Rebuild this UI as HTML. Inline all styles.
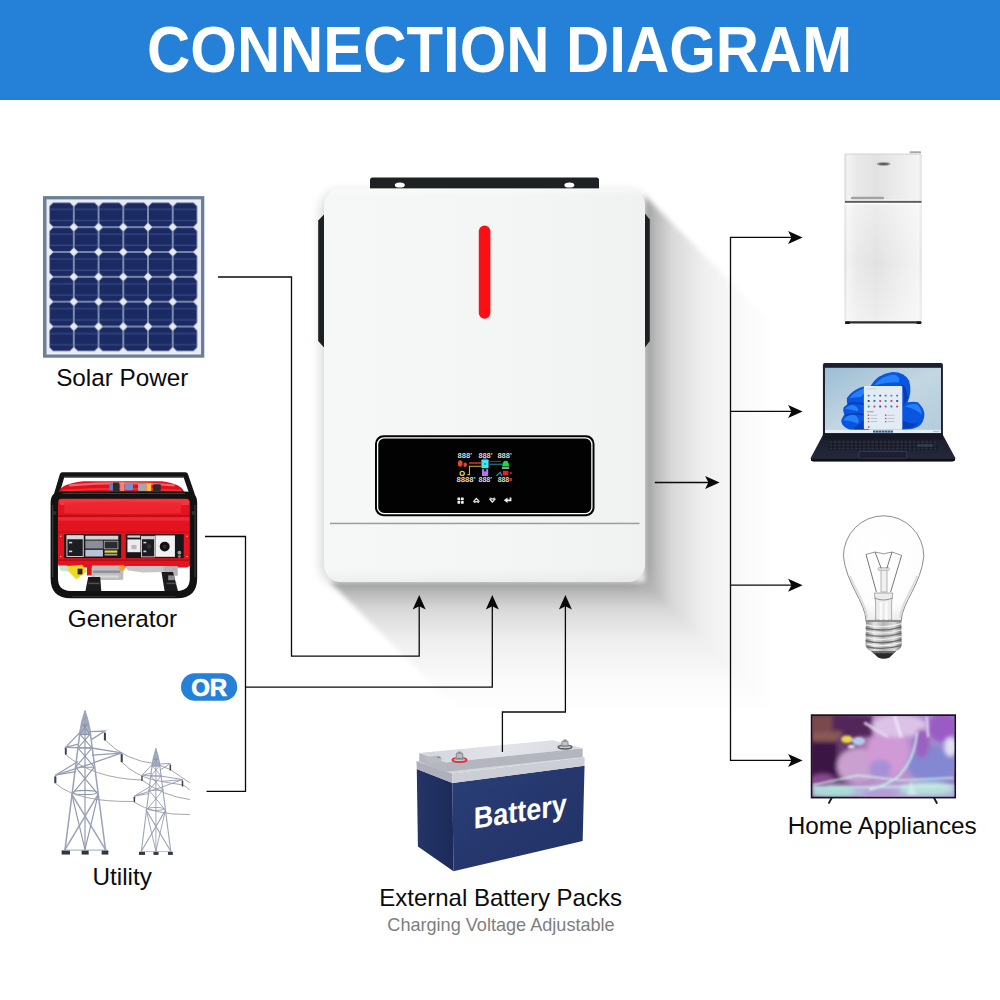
<!DOCTYPE html>
<html>
<head>
<meta charset="utf-8">
<title>Connection Diagram</title>
<style>
html,body{margin:0;padding:0;background:#fff;}
body{width:1000px;height:1000px;overflow:hidden;font-family:"Liberation Sans",sans-serif;}
svg{display:block;}
text{font-family:"Liberation Sans",sans-serif;}
.lbl{font-size:24.3px;fill:#0c0c0c;text-anchor:middle;}
.ln{fill:none;stroke:#0a0a0a;stroke-width:1.3;}
.ah{fill:#0a0a0a;}
</style>
</head>
<body>
<svg width="1000" height="1000" viewBox="0 0 1000 1000">
<defs>
  <!-- arrow heads: tip at 0,0 -->
  <path id="ar" d="M0,0 L-14.5,-6.5 L-11.2,0 L-14.5,6.5 Z"/>
  <path id="au" d="M0,0 L-6.5,14.5 L0,11.2 L6.5,14.5 Z"/>
  <linearGradient id="shR" x1="0" y1="0" x2="1" y2="0">
    <stop offset="0" stop-color="#000" stop-opacity="0.33"/>
    <stop offset="0.06" stop-color="#000" stop-opacity="0.29"/>
    <stop offset="0.21" stop-color="#000" stop-opacity="0.15"/>
    <stop offset="0.45" stop-color="#000" stop-opacity="0.062"/>
    <stop offset="0.75" stop-color="#000" stop-opacity="0.02"/>
    <stop offset="1" stop-color="#000" stop-opacity="0"/>
  </linearGradient>
  <linearGradient id="shB" x1="0" y1="0" x2="0" y2="1">
    <stop offset="0" stop-color="#000" stop-opacity="0.33"/>
    <stop offset="0.06" stop-color="#000" stop-opacity="0.29"/>
    <stop offset="0.21" stop-color="#000" stop-opacity="0.15"/>
    <stop offset="0.45" stop-color="#000" stop-opacity="0.062"/>
    <stop offset="0.75" stop-color="#000" stop-opacity="0.02"/>
    <stop offset="1" stop-color="#000" stop-opacity="0"/>
  </linearGradient>
  <filter id="blur7" x="-10%" y="-10%" width="120%" height="120%"><feGaussianBlur stdDeviation="6"/></filter>
  <filter id="blur3" x="-10%" y="-10%" width="120%" height="120%"><feGaussianBlur stdDeviation="2.5"/></filter>
  <linearGradient id="invBevel" x1="0" y1="0" x2="0" y2="1">
    <stop offset="0" stop-color="#fff" stop-opacity="0.5"/>
    <stop offset="0.02" stop-color="#fff" stop-opacity="0"/>
    <stop offset="0.965" stop-color="#000" stop-opacity="0"/>
    <stop offset="1" stop-color="#000" stop-opacity="0.035"/>
  </linearGradient>
  <linearGradient id="invBody" x1="0" y1="0" x2="1" y2="0">
    <stop offset="0" stop-color="#f6f7f7"/>
    <stop offset="0.5" stop-color="#f4f5f5"/>
    <stop offset="1" stop-color="#f0f1f1"/>
  </linearGradient>
</defs>

<!-- ================= HEADER ================= -->
<rect x="0" y="0" width="1000" height="100" fill="#2580d8"/>
<text x="499.6" y="72.3" font-size="64" font-weight="bold" fill="#fff" text-anchor="middle" textLength="705" lengthAdjust="spacingAndGlyphs">CONNECTION DIAGRAM</text>

<!-- ================= INVERTER SHADOW ================= -->
<rect x="321" y="192" width="326" height="392" rx="17" fill="#000" opacity="0.16" filter="url(#blur7)"/>
<g id="shadow" filter="url(#blur3)">
  <polygon points="645,196 775,326 775,712 645,582" fill="url(#shR)"/>
  <polygon points="330,582 645,582 775,712 460,712" fill="url(#shB)"/>
</g>

<!-- ================= INVERTER ================= -->
<g id="inverter">
  <!-- top bracket -->
  <path d="M370,189 L370,180 Q370,177.5 372.5,177.5 L596.5,177.5 Q599,177.5 599,180 L599,189 Z" fill="#1d2123"/>
  <ellipse cx="399.8" cy="185" rx="5" ry="2.6" fill="#fff"/>
  <ellipse cx="569.4" cy="185" rx="5" ry="2.6" fill="#fff"/>
  <!-- side handles -->
  <path d="M324.5,214 L318.2,220.5 L318.2,341 L324.5,348 Z" fill="#1b2123"/>
  <path d="M644.5,213 L649.8,219.5 L649.8,341 L644.5,348 Z" fill="#1b2123"/>
  <!-- body -->
  <rect x="324" y="188.5" width="321" height="393.5" rx="17" ry="17" fill="url(#invBody)"/>
  <rect x="324" y="188.5" width="321" height="393.5" rx="17" ry="17" fill="url(#invBevel)"/>
  <!-- red led -->
  <rect x="478.8" y="225.5" width="11.6" height="93.2" rx="5.8" fill="#fb0f12"/>
  <!-- display -->
  <rect x="375" y="435.3" width="219.5" height="81" rx="8.5" fill="#020202"/>
  <rect x="377.6" y="437.9" width="214.3" height="75.8" rx="6.5" fill="none" stroke="#fff" stroke-width="1.3"/>
  <!-- lower seam -->
  <rect x="330" y="522.7" width="309.5" height="1.5" fill="#9c9e9e"/>
</g>


<!-- ================= OR BADGE ================= -->
<rect x="181" y="673.2" width="56.2" height="27.6" rx="13.8" fill="#2580d8"/>
<text x="209.2" y="696" font-size="24" font-weight="bold" fill="#fff" stroke="#fff" stroke-width="0.7" text-anchor="middle">OR</text>

<!-- ================= LABELS ================= -->
<text class="lbl" x="122.3" y="385.7">Solar Power</text>
<text class="lbl" x="122.5" y="626.6">Generator</text>
<text class="lbl" x="122.2" y="884.5">Utility</text>
<text class="lbl" x="500.6" y="906.4" style="font-size:24px">External Battery Packs</text>
<text x="501" y="931" font-size="18.1" fill="#7e7e7e" text-anchor="middle">Charging Voltage Adjustable</text>
<text class="lbl" x="882.2" y="834">Home Appliances</text>

<!-- ================= SOLAR PANEL ================= -->
<defs>
  <pattern id="cell" x="49.1" y="202.3" width="24.73" height="24.85" patternUnits="userSpaceOnUse">
    <rect width="24.73" height="24.85" fill="#94a2c4"/>
    <path d="M3.9,0.8 L20.83,0.8 L23.93,3.9 L23.93,20.95 L20.83,24.05 L3.9,24.05 L0.8,20.95 L0.8,3.9 Z" fill="#1b2a63"/>
    <rect x="0.8" y="6.4" width="23.13" height="1.3" fill="#34477f"/>
    <rect x="0.8" y="17.6" width="23.13" height="1.3" fill="#34477f"/>
    <polygon points="0,0 4.1,0 0,4.1" fill="#e8ebf1"/>
    <polygon points="24.73,0 20.63,0 24.73,4.1" fill="#e8ebf1"/>
    <polygon points="0,24.85 4.1,24.85 0,20.75" fill="#e8ebf1"/>
    <polygon points="24.73,24.85 20.63,24.85 24.73,20.75" fill="#e8ebf1"/>
  </pattern>
</defs>
<g id="solar">
  <rect x="43" y="196.1" width="161.3" height="161.6" fill="#6c7f97"/>
  <rect x="46.5" y="199.4" width="154.5" height="155.1" fill="#e9edf3"/>
  <rect x="49.1" y="202.3" width="148.38" height="149.1" fill="url(#cell)"/>
</g>

<!-- ================= GENERATOR ================= -->
<g id="generator" transform="translate(45,465) scale(0.16)">
  <!-- back frame -->
  <path d="M70,190 L108,62 L878,62 L922,190" fill="none" stroke="#141414" stroke-width="32" stroke-linejoin="round"/>
  <path d="M120,75 L870,75" stroke="#4a4a4a" stroke-width="6"/>
  <!-- tank top -->
  <path d="M84,178 Q88,118 240,102 L730,102 Q862,118 872,178 Z" fill="#de111c"/>
  <path d="M150,128 Q480,100 810,128" fill="none" stroke="#f8717a" stroke-width="14" opacity="0.85"/>
  <path d="M110,160 Q480,135 850,160" fill="none" stroke="#f03a45" stroke-width="12" opacity="0.8"/>
  <!-- cap / bits on top -->
  <rect x="402" y="112" width="50" height="48" rx="8" fill="#5f7fb5"/>
  <rect x="425" y="110" width="38" height="52" fill="#2a2a30"/>
  <rect x="470" y="108" width="26" height="54" fill="#f08a70"/>
  <rect x="498" y="114" width="52" height="44" rx="8" fill="#6f93cf"/>
  <rect x="582" y="118" width="52" height="44" fill="#a7a7ab"/>
  <rect x="634" y="114" width="30" height="48" fill="#efc24a"/>
  <rect x="676" y="120" width="48" height="42" rx="6" fill="#2b2b30"/>
  <!-- red body -->
  <path d="M92,205 L905,205 Q915,205 915,225 L915,600 Q915,640 880,640 L110,640 Q78,640 78,600 L78,225 Q78,205 92,205 Z" fill="#e3141f"/>
  <path d="M82,210 L910,210 L900,250 L95,250 Z" fill="#f2363f"/>
  <path d="M120,236 Q480,222 850,236 L850,300 Q480,312 120,300 Z" fill="#ee2630" opacity="0.9"/>
  <rect x="78" y="312" width="837" height="14" fill="#c10d18"/>
  <rect x="78" y="326" width="837" height="22" fill="#f0303a" opacity="0.8"/>
  <rect x="78" y="590" width="837" height="10" fill="#b90c16"/>
  <rect x="78" y="414" width="837" height="10" fill="#cf0f1a"/>
  <!-- control panels -->
  <rect x="120" y="432" width="356" height="150" fill="#17171b"/>
  <rect x="505" y="432" width="362" height="150" fill="#17171b"/>
  <rect x="137" y="442" width="102" height="130" fill="#1c1c22" stroke="#d8d8d8" stroke-width="6"/>
  <rect x="137" y="442" width="102" height="22" fill="#d8d8d8"/>
  <rect x="150" y="480" width="20" height="10" fill="#d0d0d0"/><rect x="150" y="535" width="20" height="10" fill="#d0d0d0"/>
  <rect x="252" y="442" width="206" height="24" fill="#d4d4d4"/>
  <rect x="252" y="472" width="110" height="50" fill="#8a8e98"/>
  <rect x="370" y="476" width="86" height="48" fill="#2a2c34" stroke="#b8b8b8" stroke-width="5"/>
  <rect x="252" y="530" width="110" height="42" fill="#b9c3d6"/>
  <rect x="372" y="534" width="80" height="14" fill="#e9d23c"/>
  <rect x="372" y="554" width="80" height="12" fill="#a0a0a0"/>
  <rect x="515" y="440" width="80" height="14" fill="#cfcfcf"/>
  <rect x="515" y="465" width="82" height="80" fill="#ececec"/>
  <rect x="540" y="500" width="32" height="26" fill="#b8b8b8"/>
  <rect x="603" y="446" width="82" height="128" fill="#1c1c22" stroke="#c8c8c8" stroke-width="6"/>
  <rect x="603" y="446" width="82" height="18" fill="#d0d0d0"/>
  <rect x="615" y="480" width="18" height="10" fill="#d0d0d0"/><rect x="615" y="535" width="18" height="10" fill="#d0d0d0"/>
  <circle cx="650" cy="510" r="14" fill="#34343c"/>
  <rect x="690" y="440" width="122" height="134" fill="#f1f1f1"/>
  <circle cx="748" cy="510" r="31" fill="#121215"/>
  <circle cx="748" cy="510" r="12" fill="#2c2c33"/>
  <circle cx="840" cy="548" r="12" fill="#9a9a9a"/><circle cx="840" cy="572" r="9" fill="#7c7c7c"/>
  <circle cx="98" cy="445" r="5" fill="#f3a0a0"/><circle cx="98" cy="572" r="5" fill="#f3a0a0"/>
  <circle cx="888" cy="445" r="5" fill="#f3a0a0"/><circle cx="888" cy="572" r="5" fill="#f3a0a0"/>
  <!-- engine / underside -->
  <rect x="290" y="628" width="200" height="90" rx="10" fill="#bdbdbf"/>
  <rect x="300" y="660" width="170" height="14" fill="#8e8e92"/>
  <rect x="310" y="690" width="150" height="14" fill="#d9d9db"/>
  <path d="M500,632 L760,632 L740,668 L610,672 L520,660 Z" fill="#c6c6c8"/>
  <rect x="740" y="632" width="90" height="60" fill="#b3b3b6"/>
  <circle cx="482" cy="642" r="18" fill="#f39a2c"/>
  <path d="M88,628 L140,628 L160,668 L95,660 Z" fill="#bfe6d6"/>
  <path d="M140,632 L232,624 L262,664 L196,716 L150,668 Z" fill="#f1d823"/>
  <rect x="204" y="648" width="30" height="36" fill="#2a2a22"/>
  <rect x="262" y="630" width="30" height="60" fill="#d21a22"/>
  <!-- feet -->
  <path d="M270,700 L345,700 L352,790 L252,790 Z" fill="#1b1b1e"/>
  <path d="M728,668 L800,668 L832,790 L748,790 Z" fill="#1b1b1e"/>
  <rect x="270" y="735" width="70" height="10" fill="#4d4d52"/><rect x="760" y="735" width="60" height="10" fill="#4d4d52"/>
  <rect x="770" y="690" width="40" height="30" fill="#8d8d90"/>
  <!-- front frame -->
  <path d="M58,235 Q58,188 105,188 L880,188 Q928,188 928,235 L928,708 Q928,810 826,810 L160,810 Q58,810 58,708 Z" fill="none" stroke="#121212" stroke-width="46" stroke-linejoin="round"/>
  <path d="M110,178 L876,178" stroke="#4c4c4c" stroke-width="5"/>
  <path d="M48,250 L48,700" stroke="#454545" stroke-width="6"/>
  <path d="M938,250 L938,700" stroke="#454545" stroke-width="6"/>
  <path d="M170,822 L816,822" stroke="#3a3a3a" stroke-width="5"/>
  <circle cx="58" cy="300" r="13" fill="#303030"/><circle cx="928" cy="300" r="13" fill="#303030"/>
</g>

<!-- ================= UTILITY TOWERS ================= -->
<defs>
  <g id="tower" fill="none" stroke-linecap="round">
    <path d="M250,66 Q222,120 212,220 L289,220 Q279,120 250,66 Z" fill="#aab1c2" stroke="none" opacity="0.9"/>
    <g stroke="#8d95a9" stroke-width="7">
      <path d="M250,100 V935"/>
      <path d="M168,590 L250,935 L332,590"/>
      <path d="M191,420 L332,590 M309,420 L168,590"/>
      <path d="M206,300 L309,420 M294,300 L191,420"/>
      <path d="M219,215 L294,300 M281,215 L206,300"/>
      <path d="M232,140 L281,215 M268,140 L219,215"/>
      <path d="M219,215 H281 M206,300 H294 M191,420 H309 M229,160 H271"/>
      <ellipse cx="250" cy="578" rx="72" ry="13"/>
    </g>
    <g stroke="#9ba3b6" stroke-width="9.5">
      <path d="M250,70 L218,205 L125,935"/>
      <path d="M250,70 L283,205 L378,935"/>
      <path d="M168,590 L378,935 M332,590 L125,935"/>
    </g>
    <g stroke="#969eb2" stroke-width="8">
      <path d="M283,198 L375,194 L292,246"/>
      <path d="M217,204 L130,294 L209,276"/>
      <path d="M130,296 L292,300 L480,330 L305,392"/>
      <path d="M296,345 L480,332"/>
      <path d="M204,386 L65,470 L192,447"/>
      <path d="M65,470 L300,395"/>
    </g>
    <g stroke="none" fill="#3c414d">
      <rect x="368" y="203" width="13" height="50" rx="3"/>
      <rect x="124" y="300" width="12" height="42" rx="3"/>
      <rect x="473" y="337" width="13" height="52" rx="3"/>
      <rect x="58" y="476" width="13" height="44" rx="3"/>
    </g>
    <g stroke="none" fill="#33363d">
      <rect x="104" y="940" width="52" height="26"/>
      <rect x="229" y="940" width="44" height="26"/>
      <rect x="354" y="940" width="42" height="26"/>
    </g>
    <path d="M120,938 H385" stroke="#9aa2b6" stroke-width="6"/>
  </g>
</defs>
<g id="utility" transform="translate(45,700) scale(0.16)">
  <!-- wires -->
  <g fill="none" stroke="#a2a2a2" stroke-width="6">
    <path d="M376,250 Q500,380 700,400 L785,436"/>
    <path d="M480,388 Q560,470 680,500 Q780,520 862,531"/>
    <path d="M130,342 Q300,490 605,500"/>
    <path d="M65,520 Q200,640 553,634"/>
    <path d="M785,436 Q850,480 905,518"/>
    <path d="M862,531 Q885,545 905,562"/>
    <path d="M605,500 Q740,600 905,622"/>
    <path d="M553,636 Q680,720 905,716"/>
  </g>
  <use href="#tower"/>
  <use href="#tower" transform="translate(693,305) scale(0.725,0.74) translate(-250,-70)"/>
</g>

<!-- ================= BATTERY ================= -->
<defs>
  <linearGradient id="batFront" x1="0" y1="0" x2="1" y2="1">
    <stop offset="0" stop-color="#2a3f78"/>
    <stop offset="0.5" stop-color="#25376d"/>
    <stop offset="1" stop-color="#223267"/>
  </linearGradient>
  <linearGradient id="batLeft" x1="0" y1="0" x2="1" y2="0">
    <stop offset="0" stop-color="#243566"/>
    <stop offset="1" stop-color="#1b2a59"/>
  </linearGradient>
  <linearGradient id="batTop" x1="0" y1="0" x2="1" y2="0">
    <stop offset="0" stop-color="#d3d5dc"/>
    <stop offset="0.5" stop-color="#e2e4ea"/>
    <stop offset="1" stop-color="#d9dbe1"/>
  </linearGradient>
</defs>
<g id="battery" transform="translate(405,725) scale(0.19)">
  <!-- body -->
  <polygon points="62,232 250,305 255,770 68,640" fill="url(#batLeft)"/>
  <polygon points="250,305 945,215 935,610 255,770" fill="url(#batFront)"/>
  <!-- rim flange -->
  <polygon points="60,190 250,255 250,305 62,232" fill="#aeb1bb"/>
  <polygon points="250,255 945,170 945,215 250,305" fill="#ccced6"/>
  <polygon points="60,190 760,105 945,170 250,255" fill="#d2d4db"/>
  <!-- raised lid -->
  <polygon points="75,148 215,198 215,250 75,192" fill="#b4b7c0"/>
  <polygon points="215,198 935,122 935,168 215,246" fill="#b3b6bf"/>
  <polygon points="75,148 780,80 935,122 215,198" fill="url(#batTop)"/>
  <!-- handle recess -->
  <path d="M100,168 L170,160 L195,176 L185,196 L130,202 Z" fill="#b9bcc5"/>
  <ellipse cx="178" cy="170" rx="10" ry="5" fill="#8e9098"/>
  <!-- terminals -->
  <ellipse cx="287" cy="184" rx="38" ry="11" fill="none" stroke="#d9303a" stroke-width="9"/>
  <ellipse cx="287" cy="178" rx="24" ry="8" fill="#9a9ca2"/>
  <rect x="270" y="148" width="34" height="28" rx="5" fill="#b9bbc1" stroke="#70737b" stroke-width="4"/>
  <rect x="278" y="140" width="18" height="12" fill="#8d9097"/>
  <ellipse cx="842" cy="116" rx="36" ry="10" fill="none" stroke="#55575e" stroke-width="8"/>
  <ellipse cx="842" cy="110" rx="22" ry="7" fill="#9a9ca2"/>
  <rect x="826" y="84" width="32" height="26" rx="5" fill="#c1c3c9" stroke="#70737b" stroke-width="4"/>
  <rect x="834" y="76" width="16" height="12" fill="#8d9097"/>
  <!-- text -->
  <text transform="translate(362,546) skewY(-8.7) scale(1,1.12)" font-size="142" font-weight="bold" fill="#fff">Battery</text>
</g>

<!-- ================= LINES ================= -->
<g id="lines">
  <!-- solar -->
  <path class="ln" d="M218,277 H291.5 V656.2 H419.2 V606"/>
  <use href="#au" class="ah" x="419.2" y="595"/>
  <!-- generator / utility -->
  <path class="ln" d="M205,536.5 H245.5 V791.3 H206.5"/>
  <path class="ln" d="M245.5,687.2 H492.3 V606"/>
  <use href="#au" class="ah" x="492.3" y="595"/>
  <!-- battery -->
  <path class="ln" d="M502.4,752 V712 H565.4 V606"/>
  <use href="#au" class="ah" x="565.4" y="595"/>
  <!-- inverter out -->
  <path class="ln" d="M654.8,482.5 H709"/>
  <use href="#ar" class="ah" x="719.6" y="482.5"/>
  <!-- bus -->
  <path class="ln" d="M792,237.4 H730.5 V760.4 H792"/>
  <path class="ln" d="M730.5,411.4 H792"/>
  <path class="ln" d="M730.5,585.2 H792"/>
  <use href="#ar" class="ah" x="802.6" y="237.4"/>
  <use href="#ar" class="ah" x="802.6" y="411.4"/>
  <use href="#ar" class="ah" x="802.6" y="585.2"/>
  <use href="#ar" class="ah" x="802.6" y="760.4"/>
</g>

<!-- ================= FRIDGE ================= -->
<defs>
  <linearGradient id="frG" x1="0" y1="0" x2="1" y2="0">
    <stop offset="0" stop-color="#d4d4d4"/>
    <stop offset="0.035" stop-color="#f3f3f3"/>
    <stop offset="0.16" stop-color="#e9e9e9"/>
    <stop offset="0.42" stop-color="#e2e2e2"/>
    <stop offset="0.72" stop-color="#ececec"/>
    <stop offset="0.96" stop-color="#f4f4f4"/>
    <stop offset="1" stop-color="#dcdcdc"/>
  </linearGradient>
  <linearGradient id="frV" x1="0" y1="0" x2="0" y2="1">
    <stop offset="0" stop-color="#fff" stop-opacity="0.35"/>
    <stop offset="0.5" stop-color="#fff" stop-opacity="0"/>
    <stop offset="1" stop-color="#fff" stop-opacity="0.4"/>
  </linearGradient>
</defs>
<g id="fridge">
  <rect x="909.5" y="151.2" width="11.6" height="2.2" rx="0.8" fill="#a9a9a9"/>
  <rect x="844.5" y="153.6" width="77.2" height="167.6" rx="1" fill="url(#frG)"/>
  <rect x="844.5" y="204" width="77.2" height="117.2" fill="url(#frV)"/>
  <rect x="845" y="153.6" width="76.2" height="1.2" fill="#dadada"/>
  <rect x="851" y="196.8" width="33" height="2.6" rx="1.2" fill="#a2a2a2"/>
  <rect x="846" y="199.4" width="75" height="1.2" fill="#f6f6f6"/>
  <rect x="845" y="200.9" width="76.5" height="1.9" fill="#5c5c5c"/>
  <rect x="844.5" y="203" width="77.2" height="1.6" fill="#fbfbfb"/>
  <ellipse cx="883.6" cy="163.9" rx="6.8" ry="1.9" fill="#9b9b9b"/>
  <ellipse cx="883.6" cy="163.9" rx="4.6" ry="1" fill="#5e5e5e"/>
  <rect x="845" y="321.2" width="76.4" height="2.3" rx="1" fill="#2c2c2c"/>
  <rect x="845" y="321.6" width="5" height="2.4" rx="1" fill="#161616"/>
  <rect x="916.4" y="321.6" width="5" height="2.4" rx="1" fill="#161616"/>
</g>

<!-- ================= LAPTOP ================= -->
<defs>
  <linearGradient id="lapScr" x1="0" y1="0" x2="1" y2="1">
    <stop offset="0" stop-color="#9bbdd5"/>
    <stop offset="0.5" stop-color="#c3d6e2"/>
    <stop offset="1" stop-color="#b3cbdc"/>
  </linearGradient>
  <linearGradient id="lapBase" x1="0" y1="0" x2="0" y2="1">
    <stop offset="0" stop-color="#1a1d2a"/>
    <stop offset="1" stop-color="#252a3c"/>
  </linearGradient>
  <pattern id="keys" x="150" y="535" width="26" height="20" patternUnits="userSpaceOnUse">
    <rect width="26" height="20" fill="#10121a"/>
    <rect x="2" y="2" width="21" height="15" rx="3" fill="#2a2e40"/>
  </pattern>
</defs>
<g id="laptop" transform="translate(805,355) scale(0.16)">
  <rect x="112" y="50" width="750" height="480" rx="12" fill="#1d2030"/>
  <rect x="125" y="80" width="725" height="408" fill="url(#lapScr)"/>
  <!-- bloom -->
  <g fill="#0a55e0">
    <path d="M405,200 Q450,118 545,106 Q620,104 650,160 Q672,230 640,300 L610,330 L400,330 Z"/>
    <path d="M262,268 Q300,215 372,196 L410,210 L410,360 L300,350 Q255,320 262,268 Z"/>
    <path d="M240,330 Q262,300 300,300 L400,330 L400,400 L270,395 Q232,370 240,330 Z"/>
    <path d="M226,412 Q232,372 290,358 Q380,352 400,388 L400,467 L282,467 Q232,452 226,412 Z"/>
    <path d="M606,306 Q660,286 706,296 Q748,340 746,372 Q744,420 714,444 Q680,468 606,466 Z"/>
  </g>
  <g fill="#2b8cff" opacity="0.8">
    <path d="M430,190 Q480,130 552,122 Q598,132 588,170 Q520,168 430,190 Z"/>
    <path d="M280,270 Q310,228 368,210 Q380,236 350,262 Q318,262 280,270 Z"/>
    <path d="M250,336 Q272,312 304,312 Q340,330 330,352 Q290,340 250,336 Z"/>
    <path d="M240,410 Q252,378 300,368 Q350,392 330,430 Q290,410 240,410 Z"/>
    <path d="M625,322 Q670,300 704,310 Q730,340 730,372 Q700,340 625,322 Z"/>
  </g>
  <g fill="#0636a8" opacity="0.75">
    <path d="M598,176 Q640,200 644,270 L612,322 Q630,250 598,176 Z"/>
    <path d="M612,410 Q670,440 712,420 Q690,458 612,460 Z"/>
    <path d="M300,455 Q345,440 368,400 L368,466 L310,466 Z"/>
    <path d="M268,300 Q300,292 368,300 L368,312 Q310,300 262,312 Z"/>
    <path d="M244,374 Q300,356 368,366 L368,378 Q300,366 238,386 Z"/>
  </g>
  <!-- window -->
  <rect x="368" y="193" width="240" height="270" rx="6" fill="#e3ebf5"/>
  <rect x="385" y="208" width="60" height="7" fill="#c7d1de"/>
  <g>
    <g fill="#2f74c8"><rect x="392" y="248" width="12" height="12" rx="3"/><rect x="498" y="248" width="12" height="12" rx="3"/><rect x="428" y="282" width="12" height="12" rx="3"/><rect x="570" y="248" width="12" height="12" rx="3"/><rect x="534" y="316" width="12" height="12" rx="3"/></g>
    <g fill="#2a9c8c"><rect x="428" y="248" width="12" height="12" rx="3"/><rect x="534" y="248" width="12" height="12" rx="3"/><rect x="498" y="282" width="12" height="12" rx="3"/><rect x="392" y="316" width="12" height="12" rx="3"/></g>
    <g fill="#3b4a66"><rect x="464" y="248" width="12" height="12" rx="3"/><rect x="392" y="282" width="12" height="12" rx="3"/><rect x="570" y="282" width="12" height="12" rx="3"/><rect x="464" y="316" width="12" height="12" rx="3"/></g>
    <g fill="#c2497a"><rect x="464" y="282" width="12" height="12" rx="3"/><rect x="534" y="282" width="12" height="12" rx="3"/><rect x="428" y="316" width="12" height="12" rx="3"/><rect x="498" y="316" width="12" height="12" rx="3"/><rect x="570" y="316" width="12" height="12" rx="3"/></g>
    <rect x="388" y="352" width="40" height="6" fill="#8c98aa"/>
    <g fill="#c0563f"><rect x="392" y="372" width="9" height="9" rx="2"/><rect x="500" y="372" width="9" height="9" rx="2"/><rect x="392" y="392" width="9" height="9" rx="2"/><rect x="500" y="392" width="9" height="9" rx="2"/><rect x="392" y="412" width="9" height="9" rx="2"/><rect x="500" y="412" width="9" height="9" rx="2"/></g>
    <g fill="#b3bdcb"><rect x="408" y="374" width="44" height="5"/><rect x="516" y="374" width="44" height="5"/><rect x="408" y="394" width="44" height="5"/><rect x="516" y="394" width="44" height="5"/><rect x="408" y="414" width="44" height="5"/><rect x="516" y="414" width="44" height="5"/></g>
    <circle cx="398" cy="450" r="5" fill="#3b4a66"/>
  </g>
  <!-- taskbar -->
  <rect x="125" y="468" width="725" height="20" fill="#e7eff6"/>
  <rect x="425" y="472" width="125" height="13" fill="#3a5a8c"/>
  <g fill="#e7eff6"><rect x="441" y="472" width="3" height="13"/><rect x="459" y="472" width="3" height="13"/><rect x="477" y="472" width="3" height="13"/><rect x="495" y="472" width="3" height="13"/><rect x="513" y="472" width="3" height="13"/><rect x="531" y="472" width="3" height="13"/></g>
  <rect x="800" y="474" width="40" height="8" fill="#b7c3d0"/>
  <!-- base -->
  <path d="M112,500 L862,500 L938,640 Q945,662 920,664 L55,664 Q30,662 37,640 Z" fill="url(#lapBase)"/>
  <rect x="112" y="490" width="750" height="38" fill="#161925"/>
  <path d="M160,535 L815,535 L838,596 L138,596 Z" fill="url(#keys)"/>
  <rect x="700" y="556" width="100" height="18" fill="#3a3f52" opacity="0.8"/>
  <rect x="337" y="602" width="298" height="44" rx="8" fill="#1d2030" stroke="#454a60" stroke-width="4"/>
  <path d="M40,648 L935,648 L938,655 Q938,665 920,665 L55,665 Q36,665 37,655 Z" fill="#0f1118"/>
</g>

<!-- ================= BULB ================= -->
<defs>
  <radialGradient id="bulbG" cx="0.5" cy="0.38" r="0.62">
    <stop offset="0" stop-color="#ffffff"/>
    <stop offset="0.8" stop-color="#fdfdfd"/>
    <stop offset="1" stop-color="#eeeeee"/>
  </radialGradient>
  <linearGradient id="screwG" x1="0" y1="0" x2="1" y2="0">
    <stop offset="0" stop-color="#8a8a8a"/>
    <stop offset="0.25" stop-color="#e4e4e4"/>
    <stop offset="0.5" stop-color="#b4b4b4"/>
    <stop offset="0.8" stop-color="#d8d8d8"/>
    <stop offset="1" stop-color="#7a7a7a"/>
  </linearGradient>
</defs>
<g id="bulb" transform="translate(780,490) scale(0.2)">
  <path d="M430,652 C426,560 332,470 317,332 A201,203 0 1 1 719,332 C706,470 612,560 606,652 Z" fill="url(#bulbG)" stroke="#8c8c8c" stroke-width="5"/>
  <path d="M436,640 C432,575 380,505 350,430" fill="none" stroke="#d6d6d6" stroke-width="10" opacity="0.8"/>
  <path d="M600,640 C604,575 655,505 688,430" fill="none" stroke="#d6d6d6" stroke-width="10" opacity="0.8"/>
  <!-- stem glass -->
  <path d="M472,515 L564,515 L558,560 L558,650 L478,650 L478,560 Z" fill="#ececec" stroke="#9a9a9a" stroke-width="4"/>
  <path d="M472,540 Q518,560 564,540" fill="none" stroke="#7d7d7d" stroke-width="4"/>
  <rect x="498" y="560" width="12" height="90" fill="#fafafa"/><rect x="526" y="560" width="12" height="90" fill="#fafafa"/>
  <rect x="505" y="398" width="30" height="112" fill="#f0f0f0" stroke="#a4a4a4" stroke-width="4"/>
  <rect x="490" y="388" width="56" height="14" rx="4" fill="#e0e0e0" stroke="#a4a4a4" stroke-width="3"/>
  <!-- wires -->
  <g fill="none" stroke="#3c3c3c" stroke-width="3.5">
    <path d="M430,322 L482,510"/>
    <path d="M608,327 L553,510"/>
    <path d="M475,310 L506,392"/>
    <path d="M560,310 L534,392"/>
  </g>
  <path d="M430,322 L475,310 L518,319 L560,310 L608,327" fill="none" stroke="#6a6a6a" stroke-width="3.5"/>
  <!-- screw base -->
  <path d="M430,652 L606,652 L608,780 Q600,800 580,805 L456,805 Q436,800 428,780 Z" fill="url(#screwG)"/>
  <g stroke="#5e5e5e" stroke-width="7" fill="none" opacity="0.85">
    <path d="M428,690 Q518,712 608,684"/>
    <path d="M428,722 Q518,744 608,716"/>
    <path d="M428,754 Q518,776 608,748"/>
    <path d="M434,784 Q518,802 604,778"/>
  </g>
  <g stroke="#f4f4f4" stroke-width="6" fill="none" opacity="0.9">
    <path d="M430,674 Q518,696 606,668"/>
    <path d="M430,706 Q518,728 606,700"/>
    <path d="M430,738 Q518,760 606,732"/>
    <path d="M432,769 Q518,790 606,763"/>
  </g>
  <rect x="428" y="650" width="180" height="10" fill="#8e8e8e"/>
  <path d="M456,805 L580,805 L548,838 Q518,850 490,838 Z" fill="#2a2a2a"/>
  <path d="M456,805 L580,805 L570,816 L466,816 Z" fill="#6c6c6c"/>
</g>

<!-- ================= TV ================= -->
<defs>
  <clipPath id="tvClip"><rect x="46" y="68" width="888" height="505"/></clipPath>
  <filter id="tvBlur" x="-5%" y="-5%" width="110%" height="110%"><feGaussianBlur stdDeviation="14"/></filter>
  <filter id="tvBlurS" x="-5%" y="-5%" width="110%" height="110%"><feGaussianBlur stdDeviation="5"/></filter>
  <linearGradient id="tvBg" x1="0" y1="0" x2="1" y2="0">
    <stop offset="0" stop-color="#5a2a58"/>
    <stop offset="0.22" stop-color="#7a4a80"/>
    <stop offset="0.45" stop-color="#c493c9"/>
    <stop offset="0.7" stop-color="#b58fd0"/>
    <stop offset="1" stop-color="#8f86cf"/>
  </linearGradient>
</defs>
<g id="tv" transform="translate(805,705) scale(0.16)">
  <path d="M168,578 L150,612" stroke="#1c1c1c" stroke-width="12" stroke-linecap="round"/>
  <path d="M805,578 L824,612" stroke="#1c1c1c" stroke-width="12" stroke-linecap="round"/>
  <rect x="36" y="58" width="908" height="526" fill="#19141c"/>
  <g clip-path="url(#tvClip)">
    <rect x="44" y="66" width="892" height="508" fill="url(#tvBg)"/>
    <g filter="url(#tvBlur)">
      <rect x="30" y="60" width="170" height="100" fill="#7a4a4c"/>
      <rect x="170" y="60" width="250" height="140" fill="#53265a"/>
      <rect x="30" y="230" width="190" height="250" fill="#3a1545"/>
      <rect x="40" y="165" width="190" height="60" fill="#8a5a52"/>
      <rect x="200" y="200" width="120" height="260" fill="#6a3a70"/>
      <ellipse cx="330" cy="380" rx="130" ry="110" fill="#c9a0cf"/>
      <ellipse cx="520" cy="300" rx="130" ry="150" fill="#d09ad6"/>
      <ellipse cx="590" cy="130" rx="170" ry="70" fill="#dcc2e6"/>
      <ellipse cx="470" cy="400" rx="70" ry="60" fill="#a890d8"/>
      <ellipse cx="860" cy="140" rx="90" ry="90" fill="#9a5cc4"/>
      <ellipse cx="790" cy="370" rx="150" ry="110" fill="#8487d2"/>
      <ellipse cx="910" cy="260" rx="40" ry="60" fill="#e2e0f2"/>
      <ellipse cx="730" cy="240" rx="50" ry="90" fill="#9a62c0"/>
      <rect x="40" y="500" width="900" height="80" fill="#b4b7dc"/>
      <ellipse cx="180" cy="540" rx="130" ry="40" fill="#a8dcd6"/>
      <ellipse cx="760" cy="520" rx="170" ry="40" fill="#b7e2dc"/>
      <ellipse cx="480" cy="550" rx="120" ry="26" fill="#b69ad6"/>
      <ellipse cx="110" cy="470" rx="80" ry="40" fill="#8a4a92"/>
    </g>
    <g filter="url(#tvBlurS)">
      <ellipse cx="262" cy="214" rx="36" ry="24" fill="#e9da4a"/>
      <ellipse cx="335" cy="226" rx="40" ry="26" fill="#b4cbea"/>
      <ellipse cx="290" cy="260" rx="22" ry="12" fill="#e8e4f4"/>
      <path d="M700,170 Q690,330 590,440 Q520,500 400,530" fill="none" stroke="#c6f3ee" stroke-width="12"/>
      <path d="M370,110 L520,200" stroke="#e9d6f0" stroke-width="16"/>
      <path d="M560,70 L600,200" stroke="#efe4f6" stroke-width="18"/>
      <path d="M760,70 L770,200" stroke="#e3d2f0" stroke-width="14"/>
      <path d="M50,500 L330,440 L600,470 L930,455" fill="none" stroke="#c9efe9" stroke-width="10"/>
      <path d="M50,520 L930,505" fill="none" stroke="#d8ecf0" stroke-width="8"/>
      <path d="M640,560 L660,480 L700,560" fill="#cfe9ea"/>
    </g>
  </g>
</g>

<!-- ================= LCD ================= -->
<g id="lcd" transform="translate(445,445) scale(0.08)">
  <g font-family="Liberation Mono, monospace" font-weight="bold" font-size="92" fill="#d4d6d6">
    <text x="158" y="163" textLength="180" lengthAdjust="spacingAndGlyphs">888'</text>
    <text x="418" y="163" textLength="175" lengthAdjust="spacingAndGlyphs">888'</text>
    <text x="655" y="163" textLength="180" lengthAdjust="spacingAndGlyphs">888'</text>
    <text x="143" y="463" textLength="238" lengthAdjust="spacingAndGlyphs">8888'</text>
    <text x="418" y="463" textLength="170" lengthAdjust="spacingAndGlyphs">888'</text>
    <text x="658" y="463" textLength="145" lengthAdjust="spacingAndGlyphs">888</text>
  </g>
  <rect x="806" y="412" width="30" height="40" fill="#e02424"/>
  <!-- row 2 -->
  <ellipse cx="190" cy="232" rx="30" ry="40" fill="#e8432e"/>
  <ellipse cx="252" cy="246" rx="22" ry="28" fill="#e8432e"/>
  <rect x="300" y="214" width="150" height="22" fill="#b72c22"/>
  <path d="M455,266 H306 V370 H280" fill="none" stroke="#d9b224" stroke-width="14"/>
  <rect x="455" y="180" width="90" height="110" rx="12" fill="#45e6ef"/>
  <rect x="490" y="228" width="24" height="18" fill="#0f8a96"/>
  <rect x="480" y="166" width="40" height="16" fill="#1c9aa4"/>
  <rect x="555" y="198" width="145" height="14" fill="#8f2a2a"/>
  <rect x="555" y="234" width="160" height="12" fill="#1f9ea8"/>
  <path d="M716,270 Q716,198 758,198 Q800,198 800,270 Z" fill="#12df40"/>
  <rect x="712" y="280" width="90" height="16" fill="#f0f0f0"/>
  <!-- row 3 -->
  <circle cx="215" cy="355" r="26" fill="none" stroke="#e6c832" stroke-width="16"/>
  <rect x="462" y="300" width="78" height="88" rx="10" fill="#b274f2"/>
  <rect x="486" y="300" width="30" height="30" fill="#1a1030"/>
  <path d="M642,385 L690,342 L712,388" fill="none" stroke="#2291a2" stroke-width="16"/>
  <rect x="722" y="322" width="70" height="60" rx="10" fill="#df2222"/>
  <circle cx="822" cy="350" r="14" fill="#df2222"/>
  <!-- buttons -->
  <g fill="#f2f2f2">
    <rect x="156" y="656" width="34" height="34" rx="5"/><rect x="200" y="656" width="34" height="34" rx="5"/>
    <rect x="156" y="700" width="34" height="34" rx="5"/><rect x="200" y="700" width="34" height="34" rx="5"/>
    <path d="M392,655 L440,708 L345,708 Z"/>
    <path d="M592,726 L640,672 L545,672 Z"/>
    <path d="M735,690 L782,655 L782,680 L808,680 L808,655 L830,655 L830,702 L782,702 L782,726 Z"/>
  </g>
  <path d="M360,720 Q392,700 425,720" fill="none" stroke="#f2f2f2" stroke-width="12"/>
  <path d="M560,662 Q592,680 625,662" fill="none" stroke="#f2f2f2" stroke-width="12"/>
  <path d="M372,700 L392,682 L412,700 Z" fill="#050505"/>
  <path d="M572,680 L592,700 L612,680 Z" fill="#050505"/>
</g>

</svg>
</body>
</html>
